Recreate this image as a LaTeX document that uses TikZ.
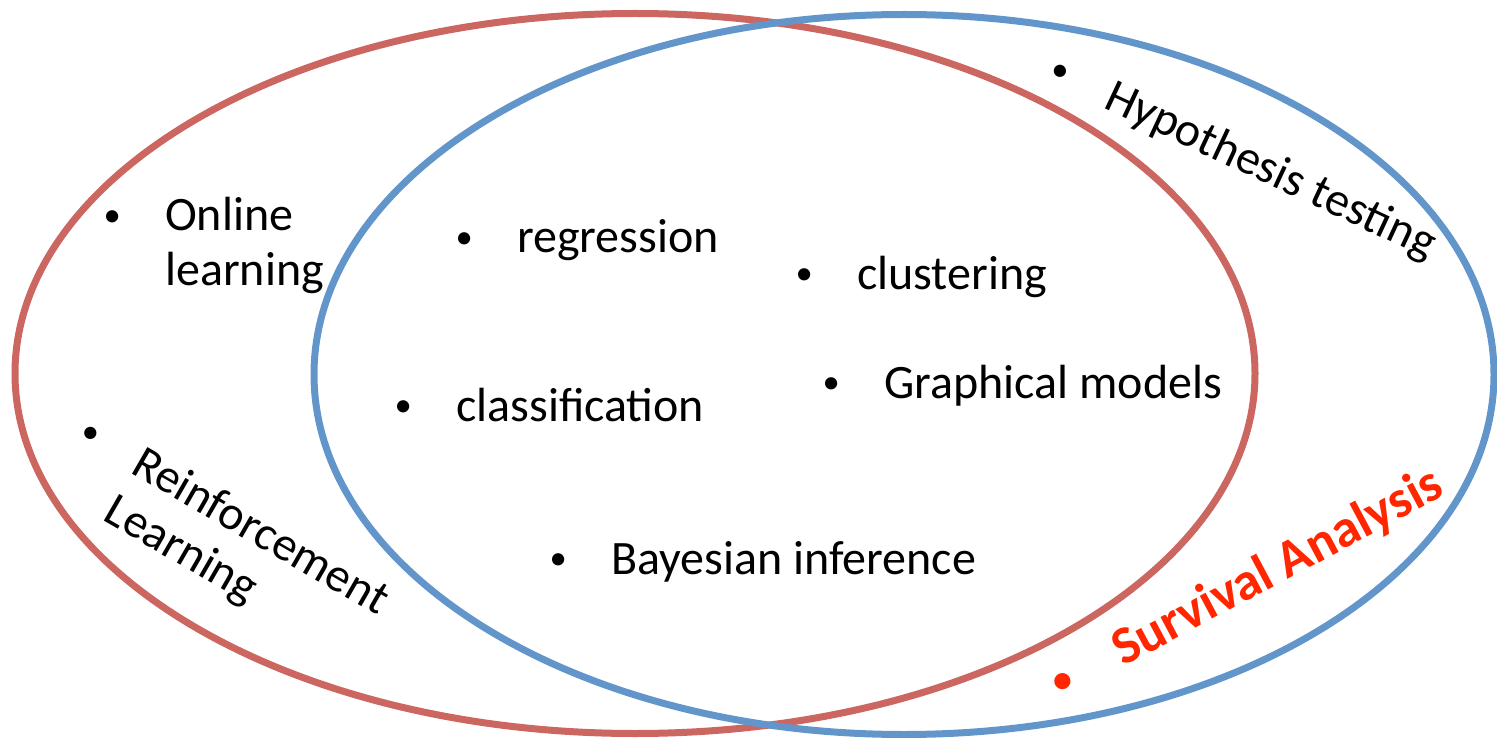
\documentclass[tikz,border=0pt]{standalone}
\usepackage{fontspec}
\setmainfont{Carlito}
\definecolor{ered}{RGB}{204,102,96}
\definecolor{eblue}{RGB}{98,150,203}
\definecolor{sared}{RGB}{255,38,0}
\newcommand\bul{\llap{\makebox[0pt][c]{\raisebox{4.5pt}{\scalebox{0.72}{\textbullet}}}\hspace{53pt}}}
\newcommand\bulr{\llap{\makebox[0pt][c]{\raisebox{4.5pt}{\scalebox{0.72}{\textbullet}}}\hspace{60pt}}}
\newcommand\twolines[2]{\begin{tabular}[t]{@{}l@{}}#1\\#2\end{tabular}}
\begin{document}
\begin{tikzpicture}[x=1pt,y=-1pt,
  item/.style={anchor=base west, inner sep=0pt, font=\fontsize{48}{55}\selectfont},
  ring/.style={line width=7pt}]
\useasboundingbox (0,0) rectangle (1497,738);
\draw[ring, ered] (635,373.5) ellipse [x radius=620, y radius=360];
\draw[ring, eblue] (904,374.5) ellipse [x radius=590, y radius=360];
\node[item] (online) at (165,231) {\bul\twolines{Online}{learning}};
\node[item, rotate=-30] (rl) at (129,472) {\bul\twolines{Reinforcement}{Learning}};
\node[item] (regression) at (517,253) {\bul regression};
\node[item] (clustering) at (857,289) {\bul clustering};
\node[item] (classification) at (456,421) {\bul classification};
\node[item] (graphical) at (884,398) {\bul Graphical models};
\node[item] (bayes) at (611,574) {\bul Bayesian inference};
\node[item, rotate=-25] (hyp) at (1102,107) {\bul Hypothesis testing};
\node[item, rotate=28, text=sared, font=\fontsize{53}{60}\selectfont\bfseries] (surv) at (1123,667) {\bulr Survival Analysis};
\end{tikzpicture}
\end{document}
